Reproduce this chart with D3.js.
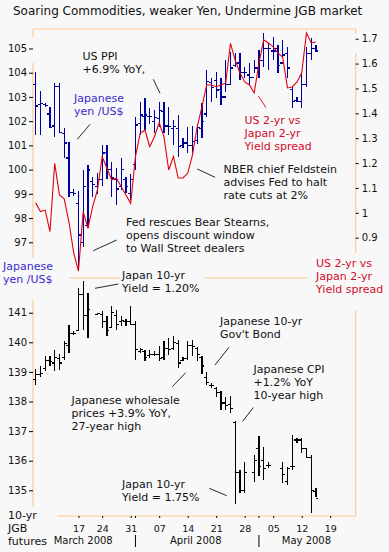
<!DOCTYPE html>
<html>
<head>
<meta charset="utf-8">
<script src="https://cdn.jsdelivr.net/npm/d3@7"></script>
<style>
  html, body { margin: 0; padding: 0; background: #f8f8f8; }
  svg { display: block; font-family: "DejaVu Sans", Verdana, sans-serif; }
</style>
</head>
<body>
<script>
// slot = one column of the price grid, first value sits in slot 3
var width = 389;
var height = 552;
var firstSlot = 3;

// Japanese yen per US$ (top panel, blue bars)
var yenHigh = [104.04, 103.26, 102.76, 102.57, 103.59, 103.56, 101.71, 101.15, 99.2, 99.13,
  99.98, 100.19, 99.7, 99.85, 101.02, 101.0, 100.33, 100.05, 100.47, 99.71,
  99.8, 102.18, 102.8, 102.94, 102.55, 102.46, 102.8, 102.8, 102.6, 102.05,
  102.25, 101.3, 101.77, 101.8, 101.9, 102.74, 104.11, 103.8, 104.04, 103.77,
  104.52, 104.87, 104.8, 104.8, 104.25, 104.39, 104.52, 104.94, 105.65, 105.21,
  105.49, 105.14, 105.35, 105.07, 103.42, 103.0, 103.97, 105.07, 105.42, 105.14];
var yenLow = [101.43, 101.43, 102.57, 101.7, 101.36, 101.5, 100.48, 98.88, 98.9, 95.99,
  96.82, 97.58, 98.88, 99.0, 99.32, 99.6, 98.88, 98.54, 99.16, 99.02,
  98.75, 99.98, 101.43, 101.63, 101.9, 101.5, 101.77, 101.5, 101.43, 101.0,
  100.53, 100.9, 100.67, 100.7, 101.05, 101.29, 102.18, 102.8, 102.94, 102.67,
  103.22, 103.49, 104.25, 103.7, 103.77, 103.49, 103.97, 103.77, 104.25, 104.11,
  104.52, 103.97, 104.66, 103.77, 102.53, 102.8, 102.53, 103.42, 104.52, 104.87];
var yenOpen = [103.5, 102.7, 102.7, 102.3, 101.8, 103.42, 101.5, 100.48, 99.05, 98.6,
  97.0, 97.7, 99.5, 99.3, 99.6, 100.7, 100.0, 99.6, 99.3, 99.6,
  99.0, 100.2, 101.9, 102.2, 102.2, 102.0, 102.1, 102.4, 101.8, 101.7,
  101.7, 101.0, 101.1, 101.0, 101.2, 101.7, 102.3, 103.6, 103.67, 103.3,
  103.0, 103.5, 104.3, 104.4, 104.0, 103.9, 103.8, 104.2, 104.5, 105.0,
  104.9, 105.0, 104.4, 104.8, 103.3, 102.85, 102.8, 103.5, 104.8, 105.0];
var yenClose = [102.63, 102.74, 102.65, 101.75, 103.42, 101.52, 101.1, 99.05, 99.0, 97.3,
  99.3, 99.98, 99.4, 99.6, 100.68, 100.0, 99.65, 99.2, 100.0, 99.3,
  99.6, 101.84, 102.25, 102.25, 102.2, 102.15, 102.43, 101.8, 101.77, 101.77,
  100.95, 101.1, 101.0, 101.15, 101.75, 102.0, 103.63, 103.4, 103.29, 103.0,
  103.5, 104.2, 104.39, 104.0, 104.0, 103.8, 104.2, 104.5, 105.0, 105.0,
  104.9, 104.3, 104.73, 104.2, 102.8, 102.8, 103.5, 104.8, 105.0, 104.9];

// US 2-yr minus Japan 2-yr yield spread (top panel, red line)
var spread = [1.040, 1.005, 1.011, 0.924, 1.199, 1.072, 1.056, 0.963, 0.839, 0.766,
  1.005, 0.938, 1.025, 1.092, 1.226, 1.179, 1.132, 1.139, 1.105, 1.072,
  1.038, 1.226, 1.320, 1.333, 1.266, 1.306, 1.362, 1.306, 1.172, 1.226,
  1.140, 1.140, 1.159, 1.232, 1.346, 1.427, 1.514, 1.514, 1.507, 1.514,
  1.522, 1.681, 1.614, 1.562, 1.526, 1.514, 1.482, 1.602, 1.695, 1.683,
  1.667, 1.642, 1.626, 1.502, 1.506, 1.526, 1.562, 1.723, 1.683, 1.687];

// 10-yr JGB futures (bottom panel, black bars), null = no trading
var jgbHigh = [139.1, 139.2, 139.54, 139.54, 139.75, 139.6, 140.05, 140.59, 140.37, 141.83,
  142.06, 141.66, null, 141.0, 141.05, 140.88, 141.21, 141.1, 140.88, 140.78,
  141.21, 140.71, 139.81, 139.75, 139.75, 139.7, 139.86, 140.03, 140.14, 140.2,
  140.09, 139.49, 140.03, 140.07, 139.85, 139.54, 139.0, 138.62, 138.5, 138.34,
  138.15, 138.18, 137.33, 135.69, 135.97, null, 136.19, 136.83, 136.47, 135.97,
  null, null, 135.97, 135.8, 136.87, 136.76, 136.76, 136.42, 136.19, 135.07];
var jgbLow = [138.56, 138.82, 139.03, 139.2, 139.02, 139.07, 139.41, 139.64, 140.26, 140.37,
  140.42, 140.14, null, 140.93, 140.48, 140.2, 140.48, 140.42, 140.54, 140.54,
  140.59, 139.41, 139.64, 139.36, 139.47, 139.53, 139.36, 139.41, 139.58, 139.75,
  139.13, 139.36, 139.41, 139.55, 139.38, 138.93, 138.56, 138.45, 138.15, 137.72,
  137.72, 137.6, 134.55, 134.92, 134.92, null, 135.29, 135.5, 135.35, 135.74,
  null, null, 135.24, 135.18, 135.69, 136.59, 136.25, 136.08, 134.22, 134.78];
var jgbOpen = [138.75, 138.9, 139.1, 139.4, 139.3, 139.45, 139.5, 139.9, 140.3, 140.4,
  141.6, 140.9, null, 140.95, 140.95, 140.7, 140.5, 140.9, 140.7, 140.7,
  140.7, 140.6, 139.7, 139.7, 139.55, 139.6, 139.6, 139.5, 139.8, 139.8,
  139.95, 139.4, 139.45, 139.9, 139.8, 139.5, 138.8, 138.55, 138.45, 138.3,
  137.95, 137.9, 137.3, 135.6, 135.0, null, 135.6, 136.4, 136.0, 135.85,
  null, null, 135.75, 135.3, 135.8, 136.7, 136.7, 136.4, 136.1, 134.95];
var jgbClose = [138.9, 138.95, 139.4, 139.35, 139.5, 139.3, 139.95, 140.3, 140.3, 141.6,
  140.9, 141.1, null, 140.98, 140.7, 140.4, 141.0, 140.6, 140.75, 140.7,
  140.6, 139.75, 139.75, 139.5, 139.6, 139.6, 139.45, 139.8, 139.75, 140.0,
  139.3, 139.45, 139.9, 139.85, 139.6, 139.2, 138.65, 138.55, 138.3, 137.95,
  137.85, 137.75, 135.6, 135.0, 135.6, null, 136.0, 135.8, 135.74, 135.85,
  null, null, 135.52, 135.74, 135.8, 136.7, 136.4, 136.1, 134.99, 134.73];

// axis ticks and labels
var yenTicks = [97, 98, 99, 100, 101, 102, 103, 104, 105];
var spreadTicks = [0.9, 1, 1.1, 1.2, 1.3, 1.4, 1.5, 1.6, 1.7];
var jgbTicks = [135, 136, 137, 138, 139, 140, 141];
var dayTickSlots = [12, 17, 23, 29, 35, 41, 47, 53, 59, 65];
var dayTickLabels = ['17', '24', '31', '07', '14', '21', '28', '05', '12', '19'];
var monthLabels = ['March 2008', 'April 2008', 'May 2008'];
var monthLabelSlots = [13, 36.7, 60];
var monthBreakSlots = [24, 50];

var bg = '#f8f8f8';
var orange = '#fdca94';
var navy = '#00009c';
var red = '#e00012';
var blueText = '#3a2ccc';
var redText = '#d40a2a';
var ink = '#111111';

var svg = d3.select('body').append('svg')
  .attr('width', width)
  .attr('height', height);

svg.append('rect').attr('width', width).attr('height', height).attr('fill', bg);

var x = d3.scaleLinear().domain([0, 66]).range([21.45, 334.95]);
var yYen = d3.scaleLinear().domain([97, 104]).range([242.3, 72.7]);
var ySpread = d3.scaleLinear().domain([0.9, 1.7]).range([237.7, 38.7]);
var yJgb = d3.scaleLinear().domain([135, 141]).range([490.3, 312.7]);

// frame lines
var frame = svg.append('g').attr('stroke', orange).attr('fill', 'none').attr('stroke-width', 1.2);
frame.append('path').attr('d', 'M33,37V29H355.7V34');
frame.append('path').attr('d', 'M33,63V258');
frame.append('path').attr('d', 'M355.7,53V253');
frame.append('path').attr('d', 'M69,278H308');
frame.append('path').attr('d', 'M33,300V507');
frame.append('path').attr('d', 'M355.7,310V516');
frame.append('path').attr('d', 'M57,516H355.7');

// axes
function styleAxis(g, size) {
  g.select('.domain').remove();
  g.selectAll('.tick line').attr('stroke', '#000');
  g.selectAll('.tick text').attr('fill', ink).style('font-size', size + 'px')
    .style('font-family', '"DejaVu Sans", Verdana, sans-serif');
}

var plain = function(d) { return String(d); };

svg.append('g').attr('transform', 'translate(33,0)')
  .call(d3.axisLeft(yYen).tickValues(yenTicks).tickSize(4).tickPadding(2).tickFormat(plain))
  .call(styleAxis, 10);

svg.append('g').attr('transform', 'translate(355.7,0)')
  .call(d3.axisRight(ySpread).tickValues(spreadTicks).tickSize(3).tickPadding(3).tickFormat(plain))
  .call(styleAxis, 10);

svg.append('g').attr('transform', 'translate(33,0)')
  .call(d3.axisLeft(yJgb).tickValues(jgbTicks).tickSize(4).tickPadding(2).tickFormat(plain))
  .call(styleAxis, 10);

svg.append('g').attr('transform', 'translate(0,516)')
  .call(d3.axisBottom(x).tickValues(dayTickSlots).tickSize(2).tickPadding(7)
    .tickFormat(function(d, i) { return dayTickLabels[i]; }))
  .call(styleAxis, 9.5);

svg.append('g').selectAll('line').data(monthBreakSlots).enter().append('line')
  .attr('x1', function(d) { return x(d); }).attr('x2', function(d) { return x(d); })
  .attr('y1', 516).attr('y2', 518).attr('stroke', '#000');

svg.append('g').selectAll('line').data(monthBreakSlots).enter().append('line')
  .attr('x1', function(d) { return x(d); }).attr('x2', function(d) { return x(d); })
  .attr('y1', 535).attr('y2', 547).attr('stroke', '#000');

svg.append('g').selectAll('text').data(monthLabels).enter().append('text')
  .attr('x', function(d, i) { return x(monthLabelSlots[i]); })
  .attr('y', 544)
  .attr('text-anchor', 'middle')
  .attr('fill', ink)
  .style('font-size', '10px')
  .text(function(d) { return d; });

// OHLC bars
var drawBars = function(high, low, open, close, y, color, w) {
  var data = high.map(function(h, i) {
    return { s: firstSlot + i, h: h, l: low[i], o: open[i], c: close[i] };
  }).filter(function(d) { return d.h != null; });

  var bar = svg.append('g')
    .attr('stroke', color)
    .attr('stroke-width', w)
    .attr('shape-rendering', 'crispEdges')
    .selectAll('g').data(data).enter().append('g');

  bar.append('line')
    .attr('x1', function(d) { return x(d.s); })
    .attr('x2', function(d) { return x(d.s); })
    .attr('y1', function(d) { return y(d.h); })
    .attr('y2', function(d) { return y(d.l); });
  bar.append('line')
    .attr('x1', function(d) { return x(d.s) - 2.5; })
    .attr('x2', function(d) { return x(d.s); })
    .attr('y1', function(d) { return y(d.o); })
    .attr('y2', function(d) { return y(d.o); });
  bar.append('line')
    .attr('x1', function(d) { return x(d.s); })
    .attr('x2', function(d) { return x(d.s) + 2.5; })
    .attr('y1', function(d) { return y(d.c); })
    .attr('y2', function(d) { return y(d.c); });
};

drawBars(yenHigh, yenLow, yenOpen, yenClose, yYen, navy, 1.3);
drawBars(jgbHigh, jgbLow, jgbOpen, jgbClose, yJgb, '#000', 1.1);

var spreadLine = d3.line()
  .x(function(d, i) { return x(firstSlot + i); })
  .y(function(d) { return ySpread(d); });

svg.append('path')
  .datum(spread)
  .attr('d', spreadLine)
  .attr('fill', 'none')
  .attr('stroke', red)
  .attr('stroke-width', 1.1);

// text
svg.append('text').attr('x', 13).attr('y', 15).attr('fill', ink)
  .style('font-size', '12px')
  .text('Soaring Commodities, weaker Yen, Undermine JGB market');

var note = function(lines, tx, ty, color, size) {
  var t = svg.append('text').attr('fill', color).style('font-size', (size || 11) + 'px');
  lines.forEach(function(s, i) {
    t.append('tspan').attr('x', tx).attr('y', ty + i * 13).text(s);
  });
  return t;
};

// mask the frame line behind the label
svg.append('rect').attr('x', 120).attr('y', 268).attr('width', 84).attr('height', 13).attr('fill', bg);

note(['US PPI', '+6.9% YoY,'], 82.5, 59.5, ink);
note(['Japanese', 'yen /US$'], 74, 101.5, blueText);
note(['US 2-yr vs', 'Japan 2-yr', 'Yield spread'], 244.5, 124, redText);
note(['NBER chief Feldstein', 'advises Fed to halt', 'rate cuts at 2%'], 223.5, 172.5, ink);
note(['Fed rescues Bear Stearns,', 'opens discount window', 'to Wall Street dealers'], 126, 226, ink);
note(['Japanese', 'yen /US$'], 3, 270, blueText);
note(['US 2-yr vs', 'Japan 2-yr', 'Yield spread'], 316, 266.5, redText);
note(['Japan 10-yr', 'Yield = 1.20%'], 122, 278.5, ink);
note(['Japanese 10-yr', "Gov't Bond"], 220, 324.5, ink);
note(['Japanese CPI', '+1.2% YoY', '10-year high'], 253.5, 372.5, ink);
note(['Japanese wholesale', 'prices +3.9% YoY,', '27-year high'], 71.5, 403.5, ink);
note(['Japan 10-yr', 'Yield = 1.75%'], 122, 487.5, ink);
note(['10-yr', 'JGB', 'futures'], 8, 519, ink);

var pointers = [
  [153.3, 79.3, 160, 93.3, ink],
  [77.3, 139.3, 90, 124.3, ink],
  [258.3, 96, 266, 107.7, red],
  [197.3, 169, 215, 177.3, ink],
  [93.3, 250.7, 116.7, 240, ink],
  [95, 288.3, 118.3, 284, ink],
  [215, 365, 229, 347.3, ink],
  [242.5, 421.5, 253.3, 407.5, ink],
  [172.3, 386.7, 185.7, 372.7, ink],
  [209.3, 488.3, 226.7, 495.7, ink]
];
svg.append('g').selectAll('line').data(pointers).enter().append('line')
  .attr('x1', function(d) { return d[0]; })
  .attr('y1', function(d) { return d[1]; })
  .attr('x2', function(d) { return d[2]; })
  .attr('y2', function(d) { return d[3]; })
  .attr('stroke', function(d) { return d[4]; })
  .attr('stroke-width', 0.9);
</script>
</body>
</html>
